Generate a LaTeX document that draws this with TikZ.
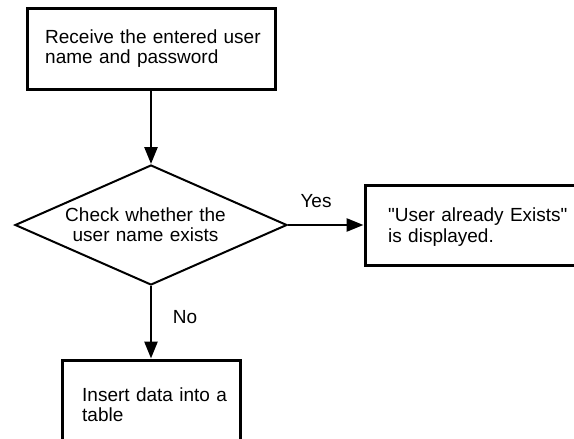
\documentclass[tikz,border=0pt]{standalone}
\usepackage{fontspec}
\setmainfont{Liberation Sans}[Ligatures=TeXOff]
\usetikzlibrary{shapes.geometric,arrows.meta}

\begin{document}
\begin{tikzpicture}[x=1pt, y=-1pt,
  procbox/.style={draw=black, line width=3pt, rectangle, inner sep=0pt},
  decision/.style={draw=black, line width=2pt, diamond, inner sep=0pt,
    minimum width=272pt, minimum height=120pt},
  flowtext/.style={font=\fontsize{19}{20.5}\selectfont, align=left,
    inner sep=0pt, text=black},
  flow/.style={draw=black, line width=2.7pt,
    -{Triangle[length=17pt,width=13pt]}}
]
% page frame
\fill[white] (0,0) rectangle (574,439);
\useasboundingbox (0,0) rectangle (574,439);
\clip (0,0) rectangle (574,439);

% process boxes and decision
\node[procbox, minimum width=248pt, minimum height=81pt] (receive) at (151,48.5) {};
\node[decision] (check) at (151,225) {};
\node[procbox, minimum width=235pt, minimum height=80pt] (exists) at (482.5,225) {};
\node[procbox, minimum width=178pt, minimum height=100pt] (insert) at (151,410) {};

% box texts
\node[flowtext, text width=240pt, anchor=base west] (receivetxt) at (45,43.3)
  {Receive the entered user\\name and password};
\node[flowtext, text width=200pt, align=center, anchor=base] (checktxt) at (145.5,221)
  {Check whether the\\user name exists};
\node[flowtext, text width=185pt, anchor=base west] (existstxt) at (388,221.5)
  {"User already Exists"\\is displayed.};
\node[flowtext, text width=150pt, anchor=base west] (inserttxt) at (82,401)
  {Insert data into a\\table};

% connectors
\draw[flow] (receive.south) -- (check.north);
\draw[flow] (check.east) -- (exists.west);
\draw[flow] (check.south) -- (insert.north);

% branch labels
\node[flowtext, anchor=base] (yes) at (316,207) {Yes};
\node[flowtext, anchor=base] (no) at (185,323) {No};
\end{tikzpicture}
\end{document}
